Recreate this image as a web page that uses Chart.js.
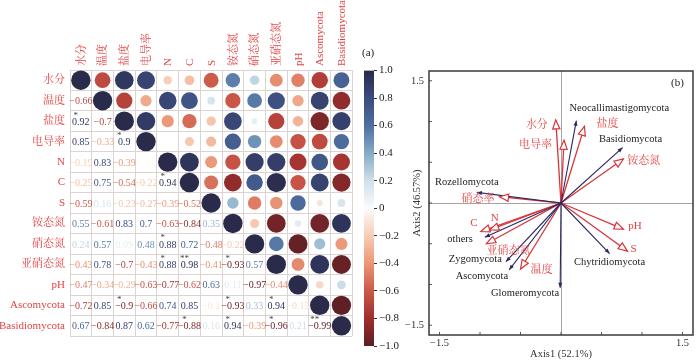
<!DOCTYPE html>
<html>
<head>
<meta charset="utf-8">
<script src="https://cdn.jsdelivr.net/npm/chart.js@4.4.1/dist/chart.umd.min.js"></script>
<style>
body { margin: 0; background: #fff; }
#wrap { position: relative; width: 700px; height: 362px; overflow: hidden; }
canvas { position: absolute; }
.tag { position: absolute; font: 11px "Liberation Serif", serif; color: #222; }
</style>
</head>
<body>
<div id="wrap">
  <canvas id="corr" width="362" height="362" style="left:0;top:0"></canvas>
  <canvas id="bar" width="40" height="320" style="left:360px;top:40px"></canvas>
  <canvas id="rda" width="320" height="362" style="left:380px;top:0"></canvas>
  <div class="tag" style="left:362px;top:46px">(a)</div>
  <div class="tag" style="left:671px;top:76px">(b)</div>
</div>
<script>
// variables of the correlation matrix
const vars = ['水分', '温度', '盐度', '电导率', 'N', 'C', 'S', '铵态氮', '硝态氮', '亚硝态氮', 'pH', 'Ascomycota', 'Basidiomycota'];

// lower triangle (row i, col j<=i)
const corrRows = [
  [1],
  [-0.66, 1],
  [0.92, -0.7, 1],
  [0.85, -0.33, 0.9, 1],
  [-0.19, 0.83, -0.39, 0.01, 1],
  [-0.25, 0.75, -0.54, -0.22, 0.94, 1],
  [-0.59, 0.16, -0.23, -0.27, -0.39, -0.52, 1],
  [0.55, -0.61, 0.83, 0.7, -0.63, -0.84, 0.35, 1],
  [0.24, 0.57, 0.09, 0.48, 0.88, 0.72, -0.48, -0.22, 1],
  [-0.43, 0.78, -0.7, -0.43, 0.88, 0.98, -0.41, -0.93, 0.57, 1],
  [-0.47, -0.34, -0.29, -0.63, -0.77, -0.62, 0.63, 0.11, -0.97, -0.44, 1],
  [-0.72, 0.85, -0.9, -0.66, 0.74, 0.85, -0.1, -0.93, 0.33, 0.94, -0.15, 1],
  [0.67, -0.84, 0.87, 0.62, -0.77, -0.88, 0.16, 0.94, -0.39, -0.96, 0.21, -0.99, 1]
];

// significance marks: [row, col, mark]
const sigMarks = [
  [2, 0, '*'], [3, 2, '*'], [5, 4, '*'], [8, 4, '*'], [9, 4, '*'], [9, 5, '**'], [9, 7, '*'],
  [11, 2, '*'], [11, 7, '*'], [11, 9, '*'], [12, 5, '*'], [12, 7, '*'], [12, 9, '*'], [12, 11, '**']
];

// colorbar ticks
const barTicks = [-1, -0.8, -0.6, -0.4, -0.2, 0, 0.2, 0.4, 0.6, 0.8, 1];

// RDA: species (dark arrows)
const sppNames = ['Neocallimastigomycota', 'Basidiomycota', 'Rozellomycota', 'others', 'Zygomycota', 'Ascomycota', 'Glomeromycota', 'Chytridiomycota'];
const sppX = [0.19, 0.76, -1.04, -0.94, -0.68, -0.64, -0.01, 0.6];
const sppY = [1.01, 0.68, 0.13, -0.42, -0.72, -0.82, -1.04, -0.62];

// RDA: environment factors (red arrows)
const envNames = ['水分', '盐度', '电导率', '铵态氮', '硝态率', 'C', 'N', '亚硝态氮', '温度', 'pH', 'S'];
const envX = [-0.065, 0.29, 0.037, 0.77, -0.76, -0.99, -0.88, -0.92, -0.5, 0.77, 0.82];
const envY = [1.02, 0.94, 0.77, 0.54, 0.077, -0.35, -0.33, -0.5, -0.81, -0.32, -0.59];

const axisTicks = [-1.5, -1, -0.5, 0, 0.5, 1, 1.5];

// label placement (pixel offsets from arrow tips)
const sppLabelPos = [[-7, -12, 'left'], [8, -8, 'center'], [-10, -10, 'center'], [-12, 2, 'right'],
  [-4, -2, 'right'], [-1, 6, 'right'], [-1, 6, 'right'], [0, 9, 'center']];
const envLabelPos = [[-8, 5, 'right'], [12, -2, 'left'], [-12, 5, 'right'], [4, 2, 'left'], [-5, 2, 'right'],
  [-7, -8, 'center'], [5, -12, 'center'], [0, 7, 'left'], [10, 1, 'left'], [5, -3, 'left'], [3, -2, 'left']];

const RED = '#e44343';
const NAVY = '#2b2660';
const SERIF = '"Liberation Serif", "Noto Serif CJK SC", "Noto Sans CJK SC", serif';

const palette = ['#5a1f24', '#a02e2e', '#cb5848', '#eb9677', '#f7cdb5', '#fbfbfb',
  '#cfe0ea', '#86abc6', '#4d70a0', '#3b4c7e', '#2a2a4a'];

function hexToRgb(h) {
  return [parseInt(h.slice(1, 3), 16), parseInt(h.slice(3, 5), 16), parseInt(h.slice(5, 7), 16)];
}

function colorFor(v) {
  let t = (v + 1) / 0.2;
  let i = Math.max(0, Math.min(9, Math.floor(t)));
  let f = t - i;
  let a = hexToRgb(palette[i]), b = hexToRgb(palette[i + 1]);
  let c = a.map((x, k) => Math.round(x + (b[k] - x) * f));
  return `rgb(${c[0]},${c[1]},${c[2]})`;
}

function corrAt(i, j) {
  return i >= j ? corrRows[i][j] : corrRows[j][i];
}

function fmtNum(v) {
  return (v < 0 ? '\u2212' : '') + String(Math.abs(v));
}

// ---------- correlation matrix ----------
var bubbles = [];
for (let i = 0; i < vars.length; i++) {
  for (let j = i; j < vars.length; j++) {
    let v = corrAt(i, j);
    bubbles.push({ x: vars[j], y: vars[i], r: 9.7 * Math.sqrt(Math.abs(v)), v: v });
  }
}

const numbersPlugin = {
  id: 'numbers',
  afterDatasetsDraw(chart) {
    const { ctx, scales: { x, y } } = chart;
    ctx.save();
    ctx.textAlign = 'center';
    ctx.textBaseline = 'middle';
    for (let i = 1; i < vars.length; i++) {
      for (let j = 0; j < i; j++) {
        let v = corrAt(i, j);
        ctx.font = '10px ' + SERIF;
        ctx.fillStyle = colorFor(v);
        ctx.fillText(fmtNum(v), x.getPixelForValue(j), y.getPixelForValue(i) + 1);
      }
    }
    ctx.fillStyle = '#444';
    ctx.font = '9px ' + SERIF;
    sigMarks.forEach(m => {
      ctx.fillText(m[2], x.getPixelForValue(m[1]) - 5, y.getPixelForValue(m[0]) - 6);
    });
    ctx.restore();
  }
};

const gridColor = '#dcd3d3';

new Chart(document.getElementById('corr'), {
  type: 'bubble',
  data: {
    datasets: [{
      data: bubbles,
      backgroundColor: c => colorFor(c.raw ? c.raw.v : 0),
      borderWidth: 0
    }]
  },
  options: {
    responsive: false,
    animation: false,
    events: [],
    layout: { padding: { right: 4, bottom: 26, top: 0, left: 0 } },
    plugins: { legend: { display: false }, tooltip: { enabled: false } },
    scales: {
      x: {
        type: 'category',
        labels: vars,
        position: 'top',
        offset: true,
        grid: { offset: true, color: gridColor, drawTicks: false },
        border: { color: gridColor },
        ticks: { color: RED, font: { family: SERIF, size: 11 }, minRotation: 90, maxRotation: 90, padding: 4, labelOffset: 14, autoSkip: false },
        afterFit: s => { s.height = 70; }
      },
      y: {
        type: 'category',
        labels: vars,
        offset: true,
        grid: { offset: true, color: gridColor, drawTicks: false },
        border: { color: gridColor },
        ticks: { color: RED, font: { family: SERIF, size: 11 }, padding: 5, autoSkip: false },
        afterFit: s => { s.width = 70; }
      }
    }
  },
  plugins: [numbersPlugin]
});

// ---------- colorbar ----------
new Chart(document.getElementById('bar'), {
  type: 'bar',
  data: {
    labels: [''],
    datasets: [{
      data: [[barTicks[0], barTicks[barTicks.length - 1]]],
      barPercentage: 1,
      categoryPercentage: 1,
      borderWidth: 0,
      backgroundColor: c => {
        const ch = c.chart;
        const ys = ch.scales.y;
        if (!ys || !ch.chartArea) return '#888';
        const y0 = ys.getPixelForValue(-1), y1 = ys.getPixelForValue(1);
        if (!isFinite(y0) || !isFinite(y1)) return '#888';
        const g = ch.ctx.createLinearGradient(0, y0, 0, y1);
        palette.forEach((col, k) => g.addColorStop(k / (palette.length - 1), col));
        return g;
      }
    }]
  },
  options: {
    responsive: false,
    animation: false,
    events: [],
    layout: { padding: { left: 4, top: 30.5, bottom: 14, right: 0 } },
    plugins: { legend: { display: false }, tooltip: { enabled: false } },
    scales: {
      x: { display: false },
      y: {
        position: 'right',
        min: -1,
        max: 1,
        afterBuildTicks: s => { s.ticks = barTicks.map(v => ({ value: v })); },
        ticks: {
          color: '#222',
          font: { family: SERIF, size: 11 },
          padding: 2,
          callback: v => Math.abs(v) < 1e-9 ? '0' : (v < 0 ? '\u2212' : '') + Math.abs(v).toFixed(1)
        },
        grid: { drawOnChartArea: false, tickLength: 3, color: '#333' },
        border: { display: false },
        afterFit: s => { s.width = 26; }
      }
    }
  }
});

// ---------- RDA biplot ----------
var rdaSets = [];
sppNames.forEach((n, i) => {
  rdaSets.push({
    label: n,
    data: [{ x: 0, y: 0 }, { x: sppX[i], y: sppY[i] }],
    showLine: true, borderColor: NAVY, borderWidth: 1.1, pointRadius: 0
  });
});
envNames.forEach((n, i) => {
  rdaSets.push({
    label: n,
    data: [{ x: 0, y: 0 }, { x: envX[i], y: envY[i] }],
    showLine: true, borderColor: '#d8343a', borderWidth: 1.3, pointRadius: 0
  });
});

function drawHead(ctx, x, y, ang, isEnv) {
  const len = isEnv ? 9 : 5;
  const hw = isEnv ? 3.6 : 2;
  const bx = x - Math.cos(ang) * len, by = y - Math.sin(ang) * len;
  const nx = -Math.sin(ang), ny = Math.cos(ang);
  ctx.beginPath();
  ctx.moveTo(x, y);
  ctx.lineTo(bx + nx * hw, by + ny * hw);
  ctx.lineTo(bx - nx * hw, by - ny * hw);
  ctx.closePath();
  if (isEnv) {
    ctx.fillStyle = '#fff';
    ctx.fill();
    ctx.strokeStyle = '#d8343a';
    ctx.lineWidth = 1.2;
    ctx.stroke();
  } else {
    ctx.fillStyle = NAVY;
    ctx.fill();
  }
}

const rdaPlugin = {
  id: 'rdaDecor',
  afterDatasetsDraw(chart) {
    const { ctx, chartArea: a, scales: { x, y } } = chart;
    ctx.save();
    // small inner ticks
    ctx.strokeStyle = '#555';
    ctx.lineWidth = 1;
    axisTicks.forEach(v => {
      let px = x.getPixelForValue(v), py = y.getPixelForValue(v);
      ctx.beginPath();
      ctx.moveTo(px, a.bottom); ctx.lineTo(px, a.bottom - 3);
      ctx.moveTo(a.left, py); ctx.lineTo(a.left + 3, py);
      ctx.stroke();
    });
    chart.data.datasets.forEach((ds, i) => {
      const pts = chart.getDatasetMeta(i).data;
      const p0 = pts[0], p1 = pts[1];
      const ang = Math.atan2(p1.y - p0.y, p1.x - p0.x);
      const isEnv = i >= sppNames.length;
      drawHead(ctx, p1.x, p1.y, ang, isEnv);
      const pos = isEnv ? envLabelPos[i - sppNames.length] : sppLabelPos[i];
      ctx.fillStyle = isEnv ? RED : '#222';
      ctx.font = (isEnv ? '11px ' : '10.5px ') + SERIF;
      ctx.textAlign = pos[2];
      ctx.textBaseline = 'middle';
      ctx.fillText(ds.label, p1.x + pos[0], p1.y + pos[1]);
    });
    // frame
    ctx.strokeStyle = '#3a3a3a';
    ctx.lineWidth = 1.5;
    ctx.strokeRect(a.left, a.top, a.right - a.left, a.bottom - a.top);
    ctx.restore();
  }
};

const zeroLine = c => (c.tick && Math.abs(c.tick.value) < 1e-9) ? '#aaa2a2' : 'rgba(0,0,0,0)';
const edgeLabel = v => Math.abs(Math.abs(v) - 1.5) < 1e-9 ? (v < 0 ? '\u22121.5' : '1.5') : '';

new Chart(document.getElementById('rda'), {
  type: 'scatter',
  data: { datasets: rdaSets },
  options: {
    responsive: false,
    animation: false,
    events: [],
    layout: { padding: { top: 71, right: 7, bottom: 0, left: 0 } },
    plugins: { legend: { display: false }, tooltip: { enabled: false } },
    scales: {
      x: {
        type: 'linear',
        min: -1.63,
        max: 1.63,
        afterBuildTicks: s => { s.ticks = axisTicks.map(v => ({ value: v })); },
        ticks: { callback: edgeLabel, color: '#333', font: { family: SERIF, size: 10.5 }, padding: 2, maxRotation: 0, autoSkip: false },
        grid: { color: zeroLine, drawTicks: false },
        border: { display: false },
        title: { display: true, text: 'Axis1 (52.1%)', color: '#333', font: { family: SERIF, size: 10.5 }, padding: { top: 0, bottom: 1 } },
        afterFit: s => { s.height = 27; }
      },
      y: {
        type: 'linear',
        min: -1.62,
        max: 1.62,
        afterBuildTicks: s => { s.ticks = axisTicks.map(v => ({ value: v })); },
        ticks: { callback: edgeLabel, color: '#333', font: { family: SERIF, size: 10.5 }, padding: 5, autoSkip: false },
        grid: { color: zeroLine, drawTicks: false },
        border: { display: false },
        title: { display: true, text: 'Axis2 (46.57%)', color: '#333', font: { family: SERIF, size: 10.5 }, padding: { top: 31, bottom: 0 } },
        afterFit: s => { s.width = 49; }
      }
    }
  },
  plugins: [rdaPlugin]
});
</script>
</body>
</html>
